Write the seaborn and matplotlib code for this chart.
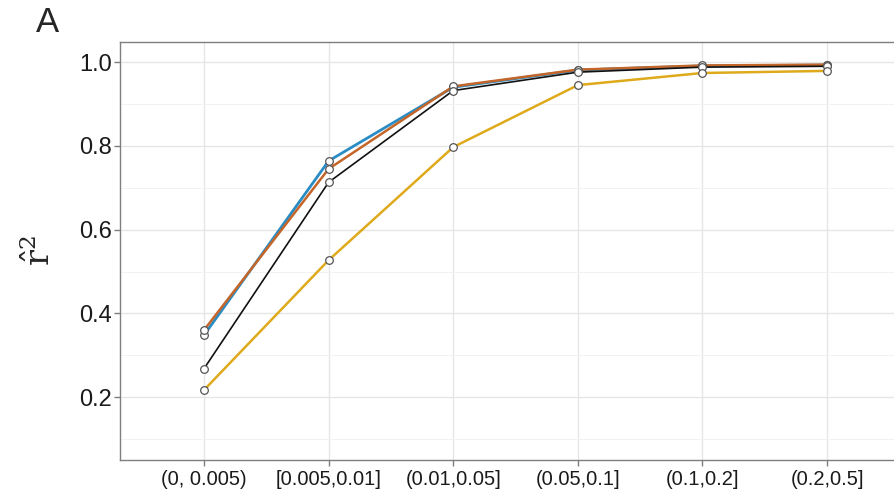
import pandas as pd
import seaborn as sns
import matplotlib.pyplot as plt

# Data
bins = ['(0, 0.005)', '[0.005,0.01]', '(0.01,0.05]', '(0.05,0.1]', '(0.1,0.2]', '(0.2,0.5]']
series_blue = [0.348, 0.764, 0.940, 0.981, 0.991, 0.993]
series_orange = [0.360, 0.745, 0.942, 0.982, 0.992, 0.994]
series_black = [0.268, 0.713, 0.932, 0.976, 0.988, 0.990]
series_gold = [0.217, 0.527, 0.797, 0.945, 0.974, 0.979]

sns.set_theme(style="white")
plt.rcParams['font.family'] = ['Liberation Sans', 'DejaVu Sans']
plt.rcParams['mathtext.fontset'] = 'dejavuserif'

frames = []
for name, vals in [('gold', series_gold), ('black', series_black),
                   ('orange', series_orange), ('blue', series_blue)]:
    frames.append(pd.DataFrame({'bin': bins, 'r2': vals, 'series': name}))
df = pd.concat(frames, ignore_index=True)

palette = {'blue': '#2a8cc4', 'orange': '#c4662a', 'black': '#111111', 'gold': '#deaa1c'}
widths = {'blue': 2.0, 'orange': 1.8, 'black': 1.2, 'gold': 1.8}

fig = plt.figure(figsize=(8.95, 4.97), dpi=100)
ax = fig.add_axes([120 / 895, 37 / 497, 791 / 895, 418 / 497])

for name in ['blue', 'orange', 'black', 'gold']:
    sub = df[df['series'] == name]
    sns.lineplot(data=sub, x='bin', y='r2', ax=ax, color=palette[name],
                 linewidth=widths[name], marker='o', markersize=5.5,
                 markerfacecolor='white', markeredgecolor='#555555',
                 markeredgewidth=0.9, sort=False, legend=False, zorder=3)

ax.set_xlim(-0.674, 5.674)
ax.set_ylim(0.05, 1.048)
ax.set_yticks([0.2, 0.4, 0.6, 0.8, 1.0])
ax.set_yticks([0.1, 0.3, 0.5, 0.7, 0.9], minor=True)
ax.set_yticklabels(['0.2', '0.4', '0.6', '0.8', '1.0'])
ax.grid(True, which='major', color='#e6e6e6', linewidth=1.0, zorder=0)
ax.grid(True, which='minor', axis='y', color='#f2f2f2', linewidth=0.7, zorder=0)
ax.set_axisbelow(True)

for spine in ax.spines.values():
    spine.set_color('#7f7f7f')
    spine.set_linewidth(1.0)

ax.tick_params(axis='both', which='major', direction='out', length=4, width=1,
               color='#7f7f7f', bottom=True, left=True)
ax.tick_params(axis='y', which='major', labelsize=17, labelcolor='#1a1a1a', pad=2)
ax.tick_params(axis='x', which='major', labelsize=14.5, labelcolor='#1a1a1a', pad=3)
ax.tick_params(which='minor', length=0)

ax.set_xlabel('')
ax.set_ylabel(r'$\hat{\mathrm{r}}^2$', fontsize=24, labelpad=16)

fig.text(36 / 895, 1 - 22 / 497, 'A', fontsize=25, ha='left', va='center')

plt.savefig('out.png', dpi=100)
